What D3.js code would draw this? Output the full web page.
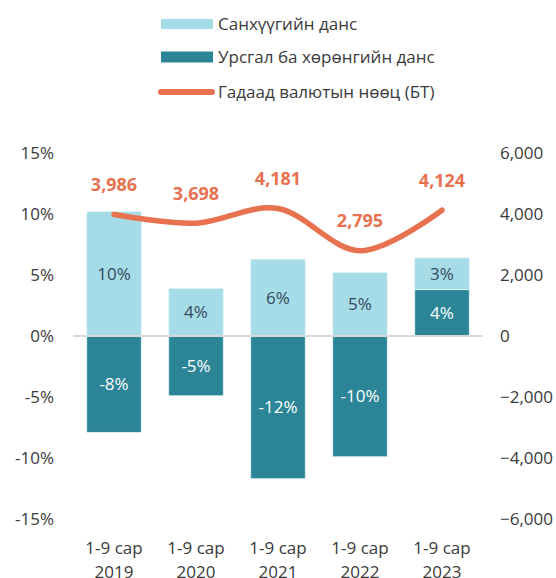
<!DOCTYPE html>
<html>
<head>
<meta charset="utf-8">
<script src="https://cdn.jsdelivr.net/npm/d3@7"></script>
<style>
  body { margin: 0; background: #fff; }
  svg text { font-family: "Open Sans", "Noto Sans", sans-serif; }
</style>
</head>
<body>
<script>
// Chart data
const periods = ["1-9 сар", "1-9 сар", "1-9 сар", "1-9 сар", "1-9 сар"];
const years = ["2019", "2020", "2021", "2022", "2023"];
const financialAccount = [10.2, 3.9, 6.3, 5.2, 2.6];      // Санхүүгийн данс, %
const currentCapital = [-7.9, -4.9, -11.7, -9.9, 3.8];   // Урсгал ба хөрөнгийн данс, %
const reserves = [3986, 3698, 4181, 2795, 4124];          // Гадаад валютын нөөц (БТ)
const leftTicks = [-15, -10, -5, 0, 5, 10, 15];
const rightTicks = [-6000, -4000, -2000, 0, 2000, 4000, 6000];
const legendNames = ["Санхүүгийн данс", "Урсгал ба хөрөнгийн данс", "Гадаад валютын нөөц (БТ)"];

const width = 556;
const height = 578;

const lightBlue = "#a6dce8";
const darkTeal = "#2c8597";
const orange = "#e8714f";
const textColor = "#3a3a3a";

const svg = d3.select("body")
  .append("svg")
  .attr("width", width)
  .attr("height", height);

// Scales
const x = d3.scaleBand()
  .domain(years)
  .range([73, 483])
  .paddingInner(0.335)
  .paddingOuter(0.1675);

const yLeft = d3.scaleLinear()
  .domain([-15, 15])
  .range([519, 153]);

const yRight = d3.scaleLinear()
  .domain([-6000, 6000])
  .range([519, 153]);

// Axes
const leftAxis = svg.append("g")
  .attr("transform", "translate(54,0)")
  .call(d3.axisLeft(yLeft).tickValues(leftTicks).tickSize(0).tickPadding(0).tickFormat(d => d + "%"));

const rightAxis = svg.append("g")
  .attr("transform", "translate(500,0)")
  .call(d3.axisRight(yRight).tickValues(rightTicks).tickSize(0).tickPadding(0).tickFormat(d3.format(",")));

[leftAxis, rightAxis].forEach(g => {
  g.select(".domain").remove();
  g.selectAll("text")
    .attr("fill", textColor)
    .style("font-size", "17px");
});

const xAxis = svg.append("g")
  .attr("transform", "translate(0,536)")
  .call(d3.axisBottom(x).tickSize(0).tickPadding(0));
xAxis.select(".domain").remove();
xAxis.selectAll("text")
  .attr("fill", textColor)
  .style("font-size", "17px")
  .attr("dy", null)
  .text(null)
  .each(function(d, i) {
    const t = d3.select(this);
    t.append("tspan").attr("x", 0).attr("y", 18).text(periods[i]);
    t.append("tspan").attr("x", 0).attr("y", 42).text(d);
  });

// Bars: positives stack upward from 0, negatives go down from 0
const rows = years.map((yr, i) => {
  const segs = [];
  let pos = 0;
  let neg = 0;
  [["cc", currentCapital[i]], ["fa", financialAccount[i]]].forEach(([key, v]) => {
    if (v >= 0) { segs.push({ key, v, y0: pos, y1: pos + v }); pos += v; }
    else { segs.push({ key, v, y0: neg + v, y1: neg }); neg += v; }
  });
  return { yr, segs };
});

const barGroups = svg.selectAll(".bar")
  .data(rows)
  .enter()
  .append("g")
  .attr("class", "bar");

barGroups.selectAll("rect")
  .data(d => d.segs.map(s => Object.assign({ yr: d.yr }, s)))
  .enter()
  .append("rect")
  .attr("x", d => x(d.yr))
  .attr("width", x.bandwidth())
  .attr("y", d => yLeft(d.y1))
  .attr("height", d => yLeft(d.y0) - yLeft(d.y1))
  .attr("fill", d => d.key === "fa" ? lightBlue : darkTeal)
  .attr("stroke", "#e4f3f6")
  .attr("stroke-width", 0.8);

barGroups.selectAll("text")
  .data(d => d.segs.map(s => Object.assign({ yr: d.yr }, s)))
  .enter()
  .append("text")
  .attr("x", d => x(d.yr) + x.bandwidth() / 2)
  .attr("y", d => (yLeft(d.y0) + yLeft(d.y1)) / 2)
  .attr("dy", "0.35em")
  .attr("text-anchor", "middle")
  .attr("fill", d => d.key === "fa" ? "#34495a" : "#ffffff")
  .style("font-size", "17px")
  .text(d => Math.round(d.v) + "%");

// Zero line
svg.append("line")
  .attr("x1", 73)
  .attr("x2", 483)
  .attr("y1", yLeft(0))
  .attr("y2", yLeft(0))
  .attr("stroke", "#d9d9d9")
  .attr("stroke-width", 2);

// Reserves line
const cx = d => x(d) + x.bandwidth() / 2;
const line = d3.line()
  .x((d, i) => cx(years[i]))
  .y(d => yRight(d))
  .curve(d3.curveCardinal.tension(0));

svg.append("path")
  .datum(reserves)
  .attr("d", line)
  .attr("fill", "none")
  .attr("stroke", orange)
  .attr("stroke-width", 5.5)
  .attr("stroke-linecap", "round");

svg.selectAll(".res-label")
  .data(reserves)
  .enter()
  .append("text")
  .attr("class", "res-label")
  .attr("x", (d, i) => cx(years[i]))
  .attr("y", d => yRight(d) - 23.5)
  .attr("text-anchor", "middle")
  .attr("fill", orange)
  .style("font-size", "18px")
  .style("font-weight", "bold")
  .text(d3.format(","));

// Legend
const legend = svg.append("g");
const legendY = [24, 57, 92];

legend.append("rect")
  .attr("x", 161).attr("y", legendY[0] - 5)
  .attr("width", 52).attr("height", 10)
  .attr("fill", lightBlue);

legend.append("rect")
  .attr("x", 161).attr("y", legendY[1] - 5.5)
  .attr("width", 52).attr("height", 11)
  .attr("fill", darkTeal);

legend.append("line")
  .attr("x1", 161).attr("x2", 212)
  .attr("y1", legendY[2]).attr("y2", legendY[2])
  .attr("stroke", orange)
  .attr("stroke-width", 6)
  .attr("stroke-linecap", "round");

legend.selectAll(".legend-text")
  .data(legendNames)
  .enter()
  .append("text")
  .attr("class", "legend-text")
  .attr("x", 218)
  .attr("y", (d, i) => legendY[i])
  .attr("dy", "0.35em")
  .attr("fill", textColor)
  .style("font-size", "17px")
  .text(d => d);
</script>
</body>
</html>
